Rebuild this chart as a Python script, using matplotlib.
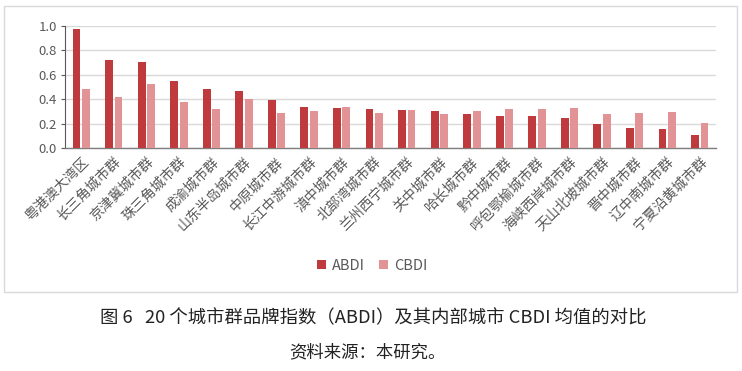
import matplotlib
matplotlib.use('Agg')
import matplotlib.pyplot as plt
import matplotlib.patches as mp
import numpy as np

plt.rcParams['font.family'] = ['Noto Sans CJK SC', 'DejaVu Sans']

# data
regions = ['粤港澳大湾区', '长三角城市群', '京津冀城市群', '珠三角城市群', '成渝城市群',
           '山东半岛城市群', '中原城市群', '长江中游城市群', '滇中城市群', '北部湾城市群',
           '兰州西宁城市群', '关中城市群', '哈长城市群', '黔中城市群', '呼包鄂榆城市群',
           '海峡西岸城市群', '天山北坡城市群', '晋中城市群', '辽中南城市群', '宁夏沿黄城市群']
abdi = [0.97, 0.72, 0.70, 0.55, 0.48, 0.47, 0.39, 0.335, 0.325, 0.32,
        0.31, 0.30, 0.28, 0.265, 0.262, 0.245, 0.196, 0.164, 0.155, 0.106]
cbdi = [0.48, 0.415, 0.525, 0.373, 0.316, 0.403, 0.289, 0.302, 0.335, 0.286,
        0.313, 0.277, 0.302, 0.319, 0.319, 0.33, 0.278, 0.284, 0.292, 0.202]
yticks = [0.0, 0.2, 0.4, 0.6, 0.8, 1.0]

c_abdi = '#BE3A3C'
c_cbdi = '#E29395'
grey = '#595959'

fig = plt.figure(figsize=(7.42, 3.71), dpi=100)
W, H = 742.0, 371.0

# light frame round the chart
fig.patches.append(mp.Rectangle((4 / W, 1 - 292 / H), 733 / W, 286 / H,
                                transform=fig.transFigure, fill=False,
                                edgecolor='#D9D9D9', linewidth=1.0))

ax = fig.add_axes([65 / W, 1 - 148 / H, 651 / W, 122.3 / H])
x = np.arange(len(regions))
bw = 0.24
ax.bar(x - 0.145, abdi, bw, color=c_abdi, label='ABDI', zorder=3)
ax.bar(x + 0.145, cbdi, bw, color=c_cbdi, label='CBDI', zorder=3)

ax.set_xlim(-0.5, len(regions) - 0.5)
ax.set_ylim(0, 1.0)
ax.set_yticks(yticks)
ax.set_yticklabels(['%.1f' % v for v in yticks], fontsize=9.5, color=grey)
ax.yaxis.grid(True, color='#D9D9D9', linewidth=1.0, zorder=0)
ax.tick_params(axis='y', length=3, color='#595959', width=0.8, pad=3)
ax.set_xticks(x)
ax.set_xticklabels(regions, rotation=45, ha='right', rotation_mode='anchor',
                   fontsize=10, color=grey)
ax.tick_params(axis='x', length=0, pad=5)
for s in ('top', 'right'):
    ax.spines[s].set_visible(False)
ax.spines['left'].set_color('#595959')
ax.spines['left'].set_linewidth(0.8)
ax.spines['bottom'].set_color('#7F7F7F')
ax.spines['bottom'].set_linewidth(1.0)

fig.legend(loc='center', bbox_to_anchor=(372 / W, 1 - 266 / H), ncol=2, frameon=False,
           fontsize=10.5, handlelength=0.6, handleheight=0.6, handletextpad=0.4,
           columnspacing=1.0, labelcolor=grey)

fig.text(373 / W, 1 - 318 / H, '图 6   20 个城市群品牌指数（ABDI）及其内部城市 CBDI 均值的对比',
         ha='center', va='center', fontsize=13.2, color='#222222')
fig.text(367 / W, 1 - 352 / H, '资料来源：本研究。', ha='center', va='center',
         fontsize=12.5, color='#222222')

fig.savefig('out.png', dpi=100)
plt.close(fig)
